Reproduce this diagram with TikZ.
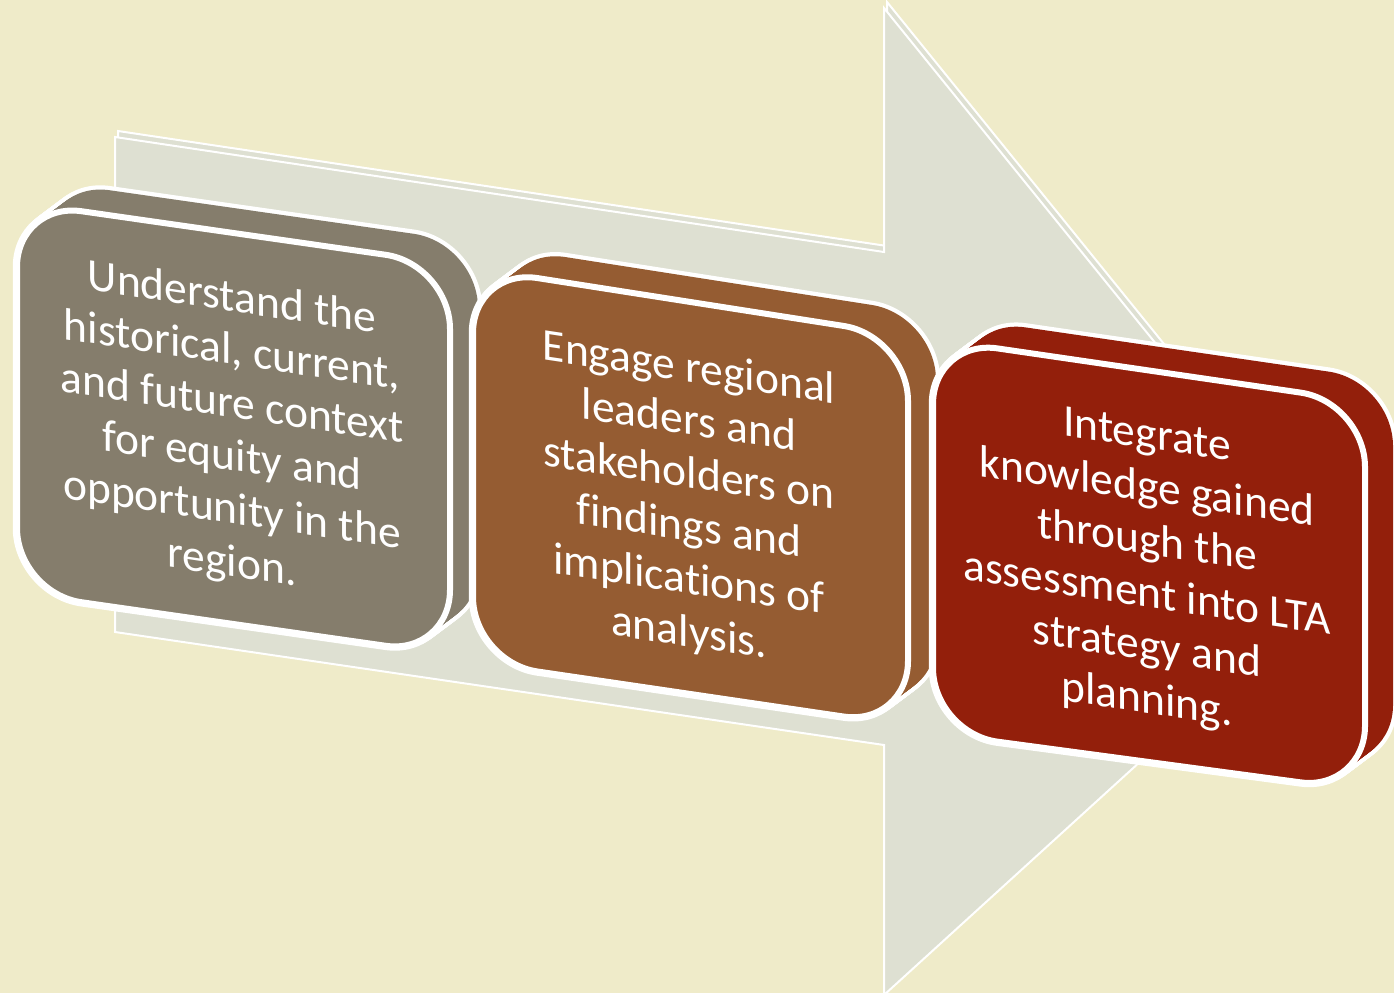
\documentclass[tikz,border=0pt]{standalone}
\usepackage{fontspec}
\setmainfont{Carlito}[Ligatures={NoCommon}]
\definecolor{bgc}{RGB}{239,235,201}
\definecolor{panelc}{RGB}{222,224,210}
\definecolor{grayc}{RGB}{133,125,108}
\definecolor{brownc}{RGB}{149,92,50}
\definecolor{redc}{RGB}{147,31,11}
\tikzset{
  txt/.style={text=white, align=center, inner sep=0pt, transform shape,
    font=\fontsize{45.5}{53}\selectfont},
  panelline/.style={draw=white, line width=2pt, fill=panelc, line join=miter},
}
% #1 colour, #2 left x, #3 right x, #4 y top-left, #5 y top-right, #6 y bottom-right, #7 y bottom-left
\newcommand\threedbox[7]{%
  \foreach \k in {0,1,...,20} {
    \draw[white, line width=8.5pt, fill=white, rounded corners=65pt]
      ({#2+1.4*\k},{#4-1.05*\k}) -- ({#3+1.4*\k},{#5-1.05*\k}) --
      ({#3+1.4*\k},{#6-1.05*\k}) -- ({#2+1.4*\k},{#7-1.05*\k}) -- cycle;
  }
  \foreach \k in {0,1,...,20} {
    \fill[#1, rounded corners=65pt]
      ({#2+1.4*\k},{#4-1.05*\k}) -- ({#3+1.4*\k},{#5-1.05*\k}) --
      ({#3+1.4*\k},{#6-1.05*\k}) -- ({#2+1.4*\k},{#7-1.05*\k}) -- cycle;
  }
  \draw[white, line width=6pt, fill=#1, rounded corners=65pt]
    (#2,#4) -- (#3,#5) -- (#3,#6) -- (#2,#7) -- cycle;
}
\begin{document}
\begin{tikzpicture}[x=1pt, y=-1pt]
\useasboundingbox (0,0) rectangle (1394,993);
\fill[bgc] (0,0) rectangle (1394,993);

% background arrow (thin slab)
\draw[panelline] (118,131) -- (887,246) -- (887,2) -- (1347,570) -- (887,989) -- (887,739) -- (118,626) -- cycle;
\draw[panelline] (115,137) -- (884,252) -- (884,8) -- (1344,576) -- (884,995) -- (884,745) -- (115,632) -- cycle;

% three blocks
\threedbox{grayc}{17}{450}{202}{264}{655}{593}
\threedbox{brownc}{473}{908}{268}{336}{726}{662}
\threedbox{redc}{933}{1365}{339}{402}{791}{733}

\begin{scope}[shift={(232,432)}, yslant=-0.15]
\node[txt] (t1) at (0,0) {Understand the\\historical, current,\\and future context\\for equity and\\opportunity in the\\region.};
\end{scope}
\begin{scope}[shift={(689,502)}, yslant=-0.15]
\node[txt] (t2) at (0,0) {Engage regional\\leaders and\\stakeholders on\\findings and\\implications of\\analysis.};
\end{scope}
\begin{scope}[shift={(1147,570)}, yslant=-0.15]
\node[txt] (t3) at (0,0) {Integrate\\knowledge gained\\through the\\assessment into LTA\\strategy and\\planning.};
\end{scope}
\end{tikzpicture}
\end{document}
